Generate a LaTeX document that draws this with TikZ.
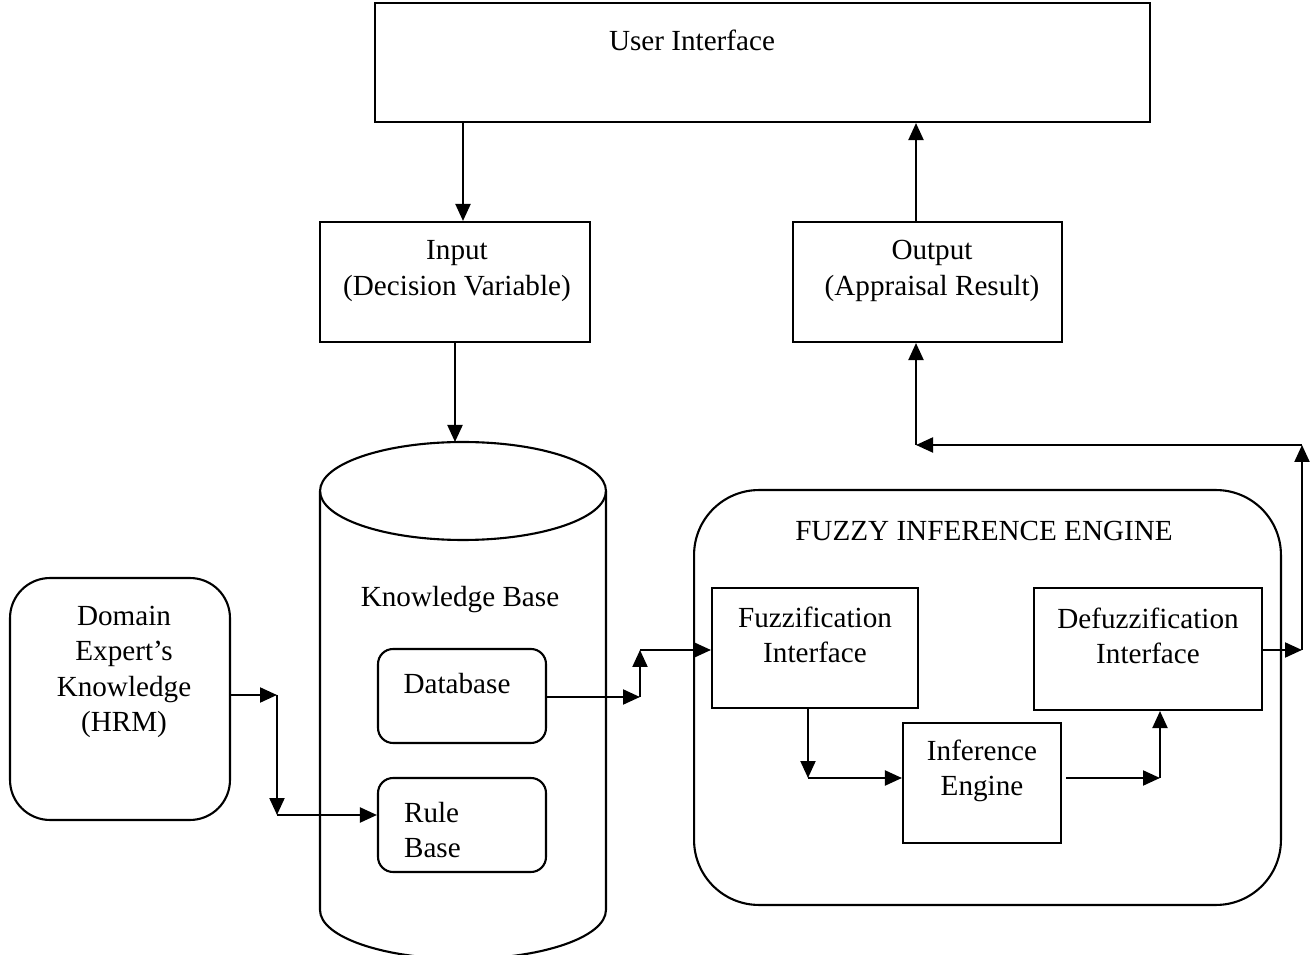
\documentclass[tikz,border=0pt]{standalone}
\usepackage{fontspec}
\setmainfont{Liberation Serif}
\usetikzlibrary{arrows.meta}

\begin{document}
\begin{tikzpicture}[x=0.02cm, y=-0.02cm, line width=1.2pt,
	caja/.style={draw, inner sep=0pt},
	redonda/.style={caja, rounded corners=#1},
	txt/.style={align=center, inner sep=0pt, font=\fontsize{16.6}{20}\selectfont},
	flecha/.style={-{Triangle[length=0.34cm, width=0.3cm]}}]
		\useasboundingbox (0,0) rectangle (1312,955);
		
		% Cajas superiores
		\node[caja, minimum width=15.5cm, minimum height=2.38cm] (ui) at (762.5,62.5) {};
		\node[txt] (uiT) at (692,40) {User Interface};
		\node[caja, minimum width=5.4cm, minimum height=2.4cm] (input) at (455,282) {};
		\node[txt] (inputT) at (457,271) {Input\\(Decision Variable)};
		\node[caja, minimum width=5.38cm, minimum height=2.4cm] (output) at (927.5,282) {};
		\node[txt] (outputT) at (932,271) {Output\\(Appraisal Result)};
		
		% Base de conocimiento (cilindro)
		\draw (463,491) ellipse [x radius=2.86cm, y radius=0.98cm];
		\draw (320,491) -- (320,910) arc [start angle=180, end angle=360, x radius=2.86cm, y radius=0.98cm] -- (606,491);
		\coordinate (kbtop) at (455,442);
		\node[txt] (kbT) at (460,600) {Knowledge Base};
		\node[redonda=0.3cm, minimum width=3.36cm, minimum height=1.88cm] (db) at (462,696) {};
		\node[txt] (dbT) at (457,684) {Database};
		\node[redonda=0.3cm, minimum width=3.36cm, minimum height=1.88cm] (rule) at (462,825) {};
		\node[txt, align=left, anchor=west] (ruleT) at (403,830) {Rule\\Base};
		
		% Experto
		\node[redonda=0.8cm, minimum width=4.4cm, minimum height=4.84cm] (domain) at (120,699) {};
		\node[txt] (domainT) at (124,672) {Domain\\Expert's\\Knowledge\\(HRM)};
		
		% Motor de inferencia difusa
		\node[redonda=1.3cm, minimum width=11.74cm, minimum height=8.3cm] (fie) at (987.5,697.5) {};
		\node[txt] (fieT) at (984,531) {FUZZY INFERENCE ENGINE};
		\node[caja, minimum width=4.12cm, minimum height=2.4cm] (fuzz) at (815,648) {};
		\node[txt] (fuzzT) at (815,635) {Fuzzification\\Interface};
		\node[caja, minimum width=4.56cm, minimum height=2.44cm] (defuzz) at (1148,649) {};
		\node[txt] (defuzzT) at (1148,636) {Defuzzification\\Interface};
		\node[caja, minimum width=3.16cm, minimum height=2.4cm] (infer) at (982,783) {};
		\node[txt] (inferT) at (982,771) {Inference\\Engine};
		
		% Puntos de quiebre
		\coordinate (xin) at (463,0);
		\coordinate (b1) at (277,695);
		\coordinate (b2) at (277,815);
		\coordinate (b3) at (640,697);
		\coordinate (b4) at (640,650);
		\coordinate (b5) at (808,778);
		\coordinate (b6) at (1160,778);
		\coordinate (b7) at (1302,650);
		\coordinate (b8) at (1302,445);
		\coordinate (b9) at (916,445);
		
		% Flechas
		\draw[flecha] (xin |- ui.south) -- (xin |- input.north);
		\draw[flecha] (input.south) -- (kbtop);
		\draw[flecha] (b9 |- output.north) -- (b9 |- ui.south);
		\draw[flecha] (b1 -| domain.east) -- (b1);
		\draw[flecha] (b1) -- (b2);
		\draw[flecha] (b2) -- (b2 -| rule.west);
		\draw[flecha] (b3 -| db.east) -- (b3);
		\draw[flecha] (b3) -- (b4);
		\draw[flecha] (b4) -- (b4 -| fuzz.west);
		\draw[flecha] (b5 |- fuzz.south) -- (b5);
		\draw[flecha] (b5) -- (b5 -| infer.west);
		\draw[flecha] ([xshift=0.08cm]b6 -| infer.east) -- (b6);
		\draw[flecha] (b6) -- (b6 |- defuzz.south);
		\draw[flecha] (b7 -| defuzz.east) -- (b7);
		\draw[flecha] (b7) -- (b8);
		\draw[flecha] (b8) -- (b9);
		\draw[flecha] (b9) -- (b9 |- output.south);
	\end{tikzpicture}
\end{document}
